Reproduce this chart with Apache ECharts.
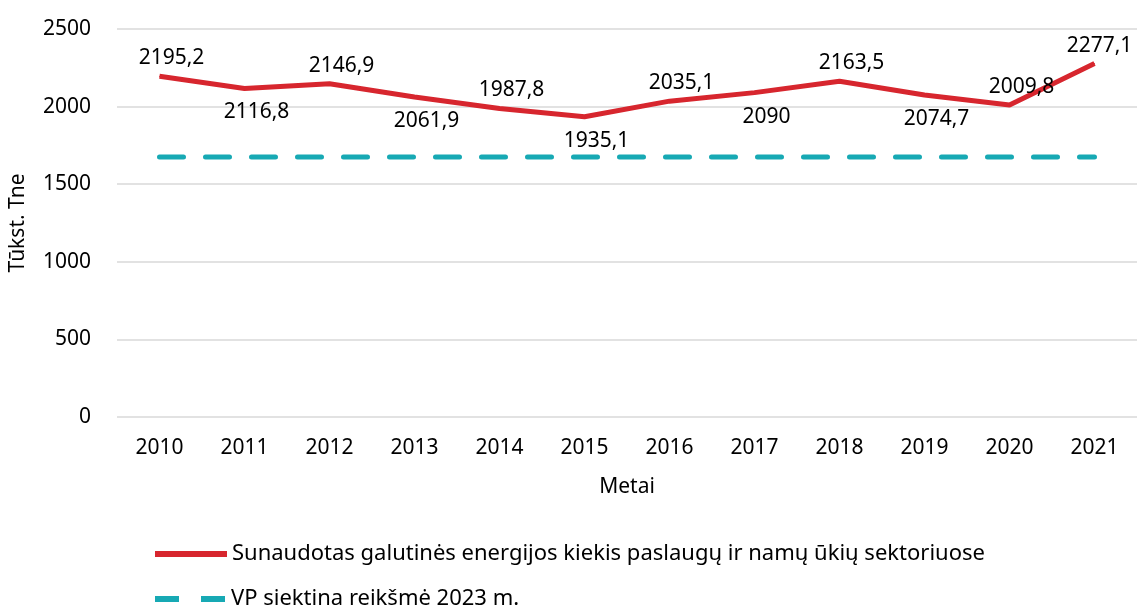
<!DOCTYPE html>
<html>
<head>
<meta charset="utf-8">
<script src="https://cdn.jsdelivr.net/npm/echarts@6/dist/echarts.min.js"></script>
<style>
    html, body { margin: 0; padding: 0; background: #fff; }
    #chart { width: 1137px; height: 605px; }
</style>
</head>
<body>
<div id="chart"></div>
<script>
// Metai
const years = ['2010', '2011', '2012', '2013', '2014', '2015', '2016', '2017', '2018', '2019', '2020', '2021'];
// Sunaudotas galutinės energijos kiekis, tūkst. tne
const consumption = [2195.2, 2116.8, 2146.9, 2061.9, 1987.8, 1935.1, 2035.1, 2090, 2163.5, 2074.7, 2009.8, 2277.1];
// VP siektina reikšmė 2023 m.
const target = [1675, 1675, 1675, 1675, 1675, 1675, 1675, 1675, 1675, 1675, 1675, 1675];
// kuriuos taškus žymėti apačioje
const labelBelow = ['2011', '2013', '2015', '2017', '2019'];

const font = 'Noto Sans';
const red = '#d7262e';
const teal = '#17a9b4';
const names = ['Sunaudotas galutinės energijos kiekis paslaugų ir namų ūkių sektoriuose', 'VP siektina reikšmė 2023 m.'];

const legendBase = {
    left: 150,
    itemWidth: 72,
    itemHeight: 6,
    textStyle: {color: '#000', fontSize: 22, fontFamily: font}
};

let myChart = echarts.init(document.getElementById('chart'));
myChart.setOption({
    animation: false,
    textStyle: {fontFamily: font},
    grid: {
        top: 29,
        left: 114,
        right: -3,
        height: 388
    },
    legend: [
        Object.assign({}, legendBase, {
            top: 538,
            data: [{name: names[0], icon: 'path://M0,0H72V6H0Z', itemStyle: {color: red}}]
        }),
        Object.assign({}, legendBase, {
            top: 583,
            data: [{name: names[1], icon: 'path://M0,0H24V6H0Z M46,0H70V6H46Z', itemStyle: {color: teal}}]
        })
    ],
    xAxis: {
        type: 'category',
        data: years,
        name: 'Metai',
        nameLocation: 'middle',
        nameGap: 60,
        nameTextStyle: {color: '#000', fontSize: 21},
        axisLine: {show: false},
        axisTick: {show: false},
        axisLabel: {color: '#000', fontSize: 21, margin: 21}
    },
    yAxis: {
        type: 'value',
        min: 0,
        max: 2500,
        interval: 500,
        name: 'Tūkst. Tne',
        nameLocation: 'middle',
        nameGap: 88,
        nameTextStyle: {color: '#000', fontSize: 21},
        axisLabel: {color: '#000', fontSize: 21, margin: 26, formatter: (v) => String(v)},
        splitLine: {lineStyle: {color: '#d9d9d9', width: 1.5}}
    },
    series: [
        {
            name: names[0],
            type: 'line',
            data: consumption.map((v, i) => {
                const below = labelBelow.includes(years[i]);
                return {
                    value: v,
                    label: {
                        position: below ? 'bottom' : 'top',
                        distance: below ? 13 : 7,
                        offset: [i === years.length - 1 ? 5 : 12, 0]
                    }
                };
            }),
            symbol: 'circle',
            symbolSize: 1,
            showSymbol: true,
            itemStyle: {color: red},
            lineStyle: {color: red, width: 5},
            z: 3,
            label: {
                show: true,
                color: '#000',
                fontSize: 21,
                formatter: (p) => String(p.value).replace('.', ',')
            }
        },
        {
            name: names[1],
            type: 'line',
            data: target,
            symbol: 'none',
            lineStyle: {color: teal, width: 5, type: [24, 22], cap: 'round'},
            itemStyle: {color: teal}
        }
    ]
});
</script>
</body>
</html>
